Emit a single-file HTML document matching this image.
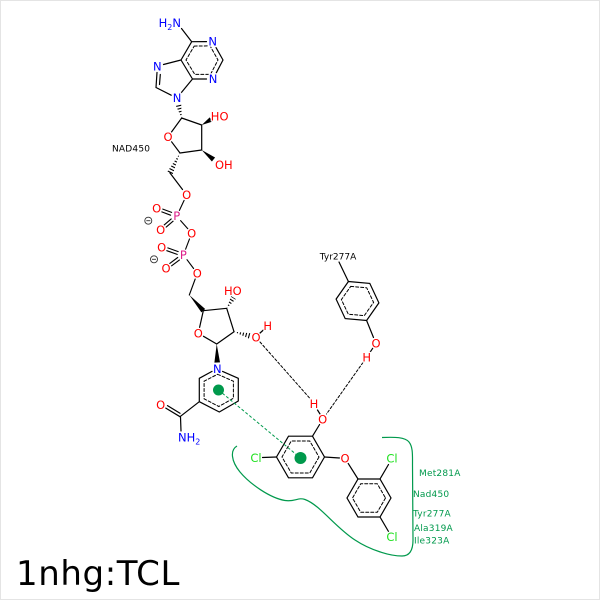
<!DOCTYPE html>
<html><head><meta charset="utf-8"><style>
html,body{margin:0;padding:0;background:#fff;}
svg{display:block;}
text{font-family:"DejaVu Sans","Liberation Sans",sans-serif;}
.a{font-size:11.5px;text-anchor:middle;stroke:#fff;stroke-width:2.5;paint-order:stroke;stroke-linejoin:round;}
.s{font-size:9px;fill:#000;}
.g{font-size:9px;fill:#00994c;}
.O{fill:#ff0000;}
.N{fill:#0000ff;}
.P{fill:#dd1f8a;}
.C{fill:#1fe01f;}
</style></head><body>
<svg width="600" height="600" viewBox="0 0 600 600" xmlns="http://www.w3.org/2000/svg">
<rect x="0.5" y="0.5" width="599" height="599" fill="#fff" stroke="#e4e4e4"/>
<defs>
<clipPath id="h1"><polygon points="181.7,118 181.2,103.3 175.4,104.7"/></clipPath>
<clipPath id="h2"><polygon points="180,153 172.7,174.3 167.3,171.7"/></clipPath>
<clipPath id="h3"><polygon points="226.7,308.3 235.9,299 231.1,296"/></clipPath>
<clipPath id="h4"><polygon points="234,331.7 249.3,338.7 250.7,333.3"/></clipPath>
</defs>

<!-- green interaction curve -->
<path d="M382,437.5 C395,437 405,437 409,442 C413,447 412.5,455 412.5,465 L413,540 C413,550 410,556 402,556 C390,556 370,550 355,540 C335,527 320,505 305,499.5 C298,497 295,502 285,500.5 C270,498 250,484 240,472 C231,461 230,450 237,446" fill="none" stroke="#00994c" stroke-width="1.2"/>

<g stroke="#000" stroke-width="1.2" fill="none" stroke-linecap="round">
<!-- adenine -->
<path d="M181.5,28.5 L191.7,41.7 M191.7,41.7 L206.5,41.6 M216,47.6 L223,60 M223,60 L216.3,72.8 M206.5,79 L192.5,79 M192.5,79 L181,60 M181,60 L191.7,41.7 M181,60 L163.5,64.5 M157,72.5 L156,87.5 M160.3,74.5 L159.5,84.5 M156,87.5 L171.2,95.2 M181,93 L192.5,79"/>
<polygon points="194.2,46.1 210.1,45.9 218,60 210.5,74.4 194.8,74.4 186,60" stroke-width="1" stroke-dasharray="3,2"/>
<!-- ribose 1 -->
<path d="M181.7,118 L171.5,132 M171.6,141.8 L180,153 M180,153 L201.7,150 M201.7,150 L201.7,125 M201.7,125 L181.7,118 M170,173 L182.5,189.5"/>
<!-- phosphates -->
<path d="M184.1,200.4 L179.3,210.6 M180.6,220.6 L187.8,228.7
M171.6,212.4 L162.8,209.1 M170.6,215.2 L161.8,211.9
M173.2,221.1 L166.2,227.1 M171.2,218.9 L164.2,224.9
M189.5,238.9 L185.5,249.4
M178.2,251.6 L167.8,247.9 M177.2,254.4 L166.8,250.7
M179.5,259.9 L171.6,265.8 M177.7,257.5 L169.8,263.4
M187,259.7 L193.6,268.5 M195.2,279 L189.3,295" stroke-width="1.1"/>
<!-- ribose 2 -->
<path d="M203.3,310.7 L199.6,327.4 M203.5,336.3 L216.7,344 M216.7,344 L234,331.7 M234,331.7 L226.7,308.3 M226.7,308.3 L203.3,310.7 M259.5,333.5 L264.5,329"/>
<!-- nicotinamide -->
<path d="M222.6,371.4 L238.3,378.3 M238.3,378.3 L238.3,401 M238.3,401 L219.3,412 M219.3,412 L199.3,401.7 M199.3,401.7 L199.3,378.3 M199.3,378.3 L212,371.4 M199.3,401.7 L180,416.7 M180,416.7 L165.8,408.1 M180,413.3 L167.5,405.6 M180.5,417 L181,431"/>
<polygon points="217.6,374.25 233.4,381.2 233.4,398.25 218.8,406.5 204.1,398.8 204.1,381.2" stroke-width="1" stroke-dasharray="3,2"/>
<!-- TCL -->
<path d="M317.5,410 L320,414 M319.6,424.5 L312.5,436.2 M276.5,457 L262.5,457.5 M324.5,457 L339.5,458 M348.2,463.4 L358,479 M380,479 L388.5,464.5 M380,517 L388.5,531.5"/>
<polygon points="324.5,457 312.5,477.8 288.5,477.8 276.5,457 288.5,436.2 312.5,436.2"/>
<polygon points="319,457 309.75,473 291.25,473 282,457 291.25,441 309.75,441" stroke-width="1" stroke-dasharray="3,2"/>
<polygon points="391,498 380,517 358,517 347,498 358,479 380,479"/>
<polygon points="385.5,498 377.25,512.3 360.75,512.3 352.5,498 360.75,483.7 377.25,483.7" stroke-width="1" stroke-dasharray="3,2"/>
<!-- Tyr -->
<polygon points="348.4,281.5 369.8,283.4 378.9,302.9 366.6,320.5 345.2,318.6 336.1,299.1"/>
<polygon points="350.7,286.4 366.7,287.8 373.6,302.4 364.3,315.6 348.3,314.2 341.4,299.6" stroke-width="1" stroke-dasharray="3,2"/>
<path d="M339,262 L348.4,281.5 M366.6,320.5 L373.5,337.5 M372.7,348.3 L369.5,353.1"/>
<!-- H-bonds -->
<path d="M260,342 L310,398.5 M363,362.5 L326.5,414" stroke-width="1" stroke-dasharray="2.5,2"/>
</g>

<!-- wedges -->
<g fill="#000">
<polygon points="201.7,125 212.3,121.65 209.7,117.35"/>
<polygon points="201.7,150 211.9,161.45 215.1,157.55"/>
<polygon points="189.3,295 201.4,312.4 205.2,309.0"/>
<polygon points="216.7,344 214.4,362.6 220,362.4"/>
</g>
<!-- hashes -->
<g stroke="#000" stroke-width="9" stroke-dasharray="1.1,1.9" fill="none">
<line x1="181.7" y1="118" x2="178.3" y2="104" clip-path="url(#h1)"/>
<line x1="180" y1="153" x2="170" y2="173" clip-path="url(#h2)"/>
<line x1="226.7" y1="308.3" x2="233.5" y2="297.5" clip-path="url(#h3)"/>
<line x1="234" y1="331.7" x2="250" y2="336" clip-path="url(#h4)"/>
</g>

<!-- pi interaction -->
<line x1="218.5" y1="390" x2="300.5" y2="458" stroke="#00994c" stroke-width="1" stroke-dasharray="3,2"/>
<circle cx="218.5" cy="390" r="5.5" fill="#00994c"/>
<circle cx="300.5" cy="458" r="6" fill="#00994c"/>

<!-- charges -->
<g stroke="#333" stroke-width="0.9" fill="none">
<circle cx="148.3" cy="220.7" r="3.5"/><line x1="146.3" y1="220.7" x2="150.3" y2="220.7"/>
<circle cx="154" cy="259.3" r="3.5"/><line x1="152" y1="259.3" x2="156" y2="259.3"/>
</g>

<!-- atom labels -->
<text class="a N" x="181" y="27" style="text-anchor:end">H<tspan font-size="8" dy="3">2</tspan><tspan dy="-3">N</tspan></text>
<text class="a N" x="212.7" y="45.7">N</text>
<text class="a N" x="213" y="83.2">N</text>
<text class="a N" x="157.3" y="70.7">N</text>
<text class="a N" x="177" y="102.2">N</text>
<text class="a O" x="168" y="141.2">O</text>
<text class="a O" x="228.5" y="120.5" style="text-anchor:end">HO</text>
<text class="a O" x="215" y="169" style="text-anchor:start">OH</text>
<text class="a O" x="186.7" y="199.2">O</text>
<text class="a P" x="176.7" y="220.2">P</text>
<text class="a O" x="156.7" y="212.5">O</text>
<text class="a O" x="160.7" y="234.2">O</text>
<text class="a O" x="191.7" y="237.5">O</text>
<text class="a P" x="183.3" y="259.2">P</text>
<text class="a O" x="161.7" y="251.5">O</text>
<text class="a O" x="166" y="272.5">O</text>
<text class="a O" x="197.3" y="277.5">O</text>
<text class="a O" x="198.3" y="337.5">O</text>
<text class="a O" x="241.7" y="295" style="text-anchor:end">HO</text>
<text class="a O" x="256" y="341.5">O</text>
<text class="a O" x="267.7" y="330">H</text>
<text class="a N" x="217.3" y="372.9">N</text>
<text class="a O" x="160.7" y="409.2">O</text>
<text class="a N" x="178" y="441.7" style="text-anchor:start">NH<tspan font-size="8" dy="3">2</tspan></text>
<text class="a O" x="314" y="408.2">H</text>
<text class="a O" x="322.7" y="423.5">O</text>
<text class="a O" x="376" y="347.5">O</text>
<text class="a O" x="366.7" y="361.5">H</text>
<text class="a C" x="256" y="462.2">Cl</text>
<text class="a O" x="345" y="462.5">O</text>
<text class="a C" x="392" y="462.5">Cl</text>
<text class="a C" x="392" y="541">Cl</text>

<text class="s" x="112" y="151.7" letter-spacing="0.2">NAD450</text>
<text class="s" x="338" y="259.5" text-anchor="middle">Tyr277A</text>

<text class="g" x="419" y="476" letter-spacing="0.2">Met281A</text>
<text class="g" x="413" y="497" letter-spacing="0.2">Nad450</text>
<text class="g" x="413" y="516.5" letter-spacing="0.2">Tyr277A</text>
<text class="g" x="414" y="531" letter-spacing="0.2">Ala319A</text>
<text class="g" x="414" y="543.5" letter-spacing="0.2">Ile323A</text>

<text x="16" y="585" font-size="34" letter-spacing="0.6" fill="#000">1nhg:TCL</text>
</svg>
</body></html>
